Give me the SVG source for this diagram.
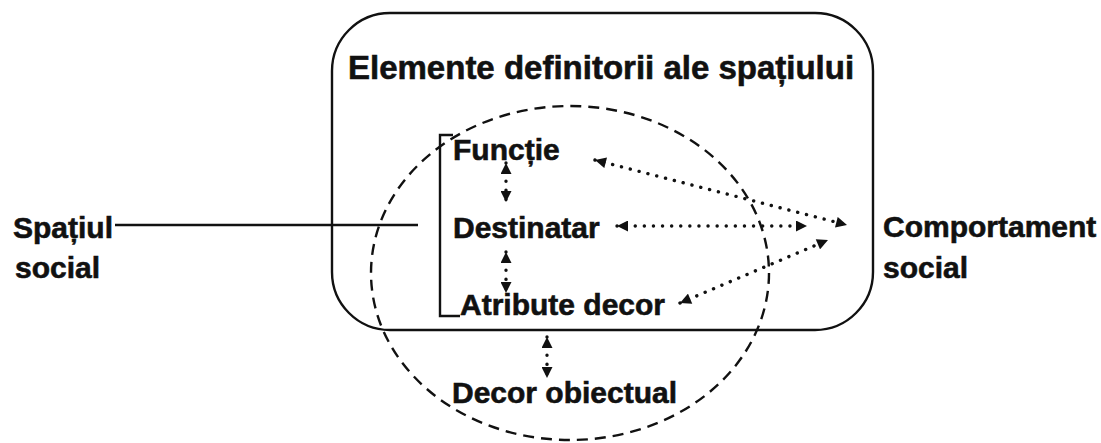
<svg xmlns="http://www.w3.org/2000/svg" width="1101" height="443" viewBox="0 0 1101 443">
<defs>
<style>
text{font-family:"Liberation Sans",Arial,sans-serif;font-weight:bold;fill:#111;stroke:#111;stroke-width:0.6;}
.lbl{font-size:30px;}
.title{font-size:33px;}
.solid{fill:none;stroke:#111;stroke-width:2.4;}
.dash{fill:none;stroke:#111;stroke-width:2.4;stroke-dasharray:11 7;}
.dot{fill:none;stroke:#111;stroke-width:3.4;stroke-linecap:round;stroke-dasharray:0.1 9;}
</style>
<marker id="ah" viewBox="0 0 10 10" refX="10" refY="5" markerWidth="12" markerHeight="11" markerUnits="userSpaceOnUse" orient="auto-start-reverse">
<path d="M0,0 L10,5 L0,10 z" fill="#111"/>
</marker>
</defs>
<rect width="1101" height="443" fill="#fff"/>

<g id="frame">
<rect class="solid" x="332" y="13" width="541" height="317" rx="58" ry="58"/>
<text class="title" x="348" y="79">Elemente definitorii ale spațiului</text>
</g>

<g id="circle">
<ellipse class="dash" cx="570" cy="273" rx="199" ry="167"/>
</g>

<g id="bracket">
<path class="solid" d="M453,135 L440,135 L440,316 L460,316"/>
</g>

<g id="functie"><text class="lbl" x="453" y="160">Funcție</text></g>
<g id="destinatar"><text class="lbl" x="453" y="238">Destinatar</text></g>
<g id="atribute"><text class="lbl" x="460" y="315">Atribute decor</text></g>
<g id="decor"><text class="lbl" x="452" y="403">Decor obiectual</text></g>
<g id="spatiul"><text class="lbl" x="13" y="238">Spațiul</text><text class="lbl" x="15" y="278">social</text></g>
<g id="comportament"><text class="lbl" x="883" y="237">Comportament</text><text class="lbl" x="883" y="278">social</text></g>

<g id="connectors">
<line class="solid" x1="115" y1="225" x2="418" y2="225"/>
<line class="dot" x1="506" y1="163" x2="506" y2="202" marker-start="url(#ah)" marker-end="url(#ah)"/>
<line class="dot" x1="506" y1="252" x2="506" y2="293" marker-start="url(#ah)" marker-end="url(#ah)"/>
<line class="dot" x1="547" y1="337" x2="547" y2="378" marker-start="url(#ah)" marker-end="url(#ah)"/>
<line class="dot" x1="595" y1="160" x2="847" y2="225" marker-start="url(#ah)" marker-end="url(#ah)"/>
<line class="dot" x1="617" y1="226" x2="807" y2="226" marker-start="url(#ah)" marker-end="url(#ah)"/>
<line class="dot" x1="680" y1="303" x2="828" y2="240" marker-start="url(#ah)" marker-end="url(#ah)"/>
</g>
</svg>
